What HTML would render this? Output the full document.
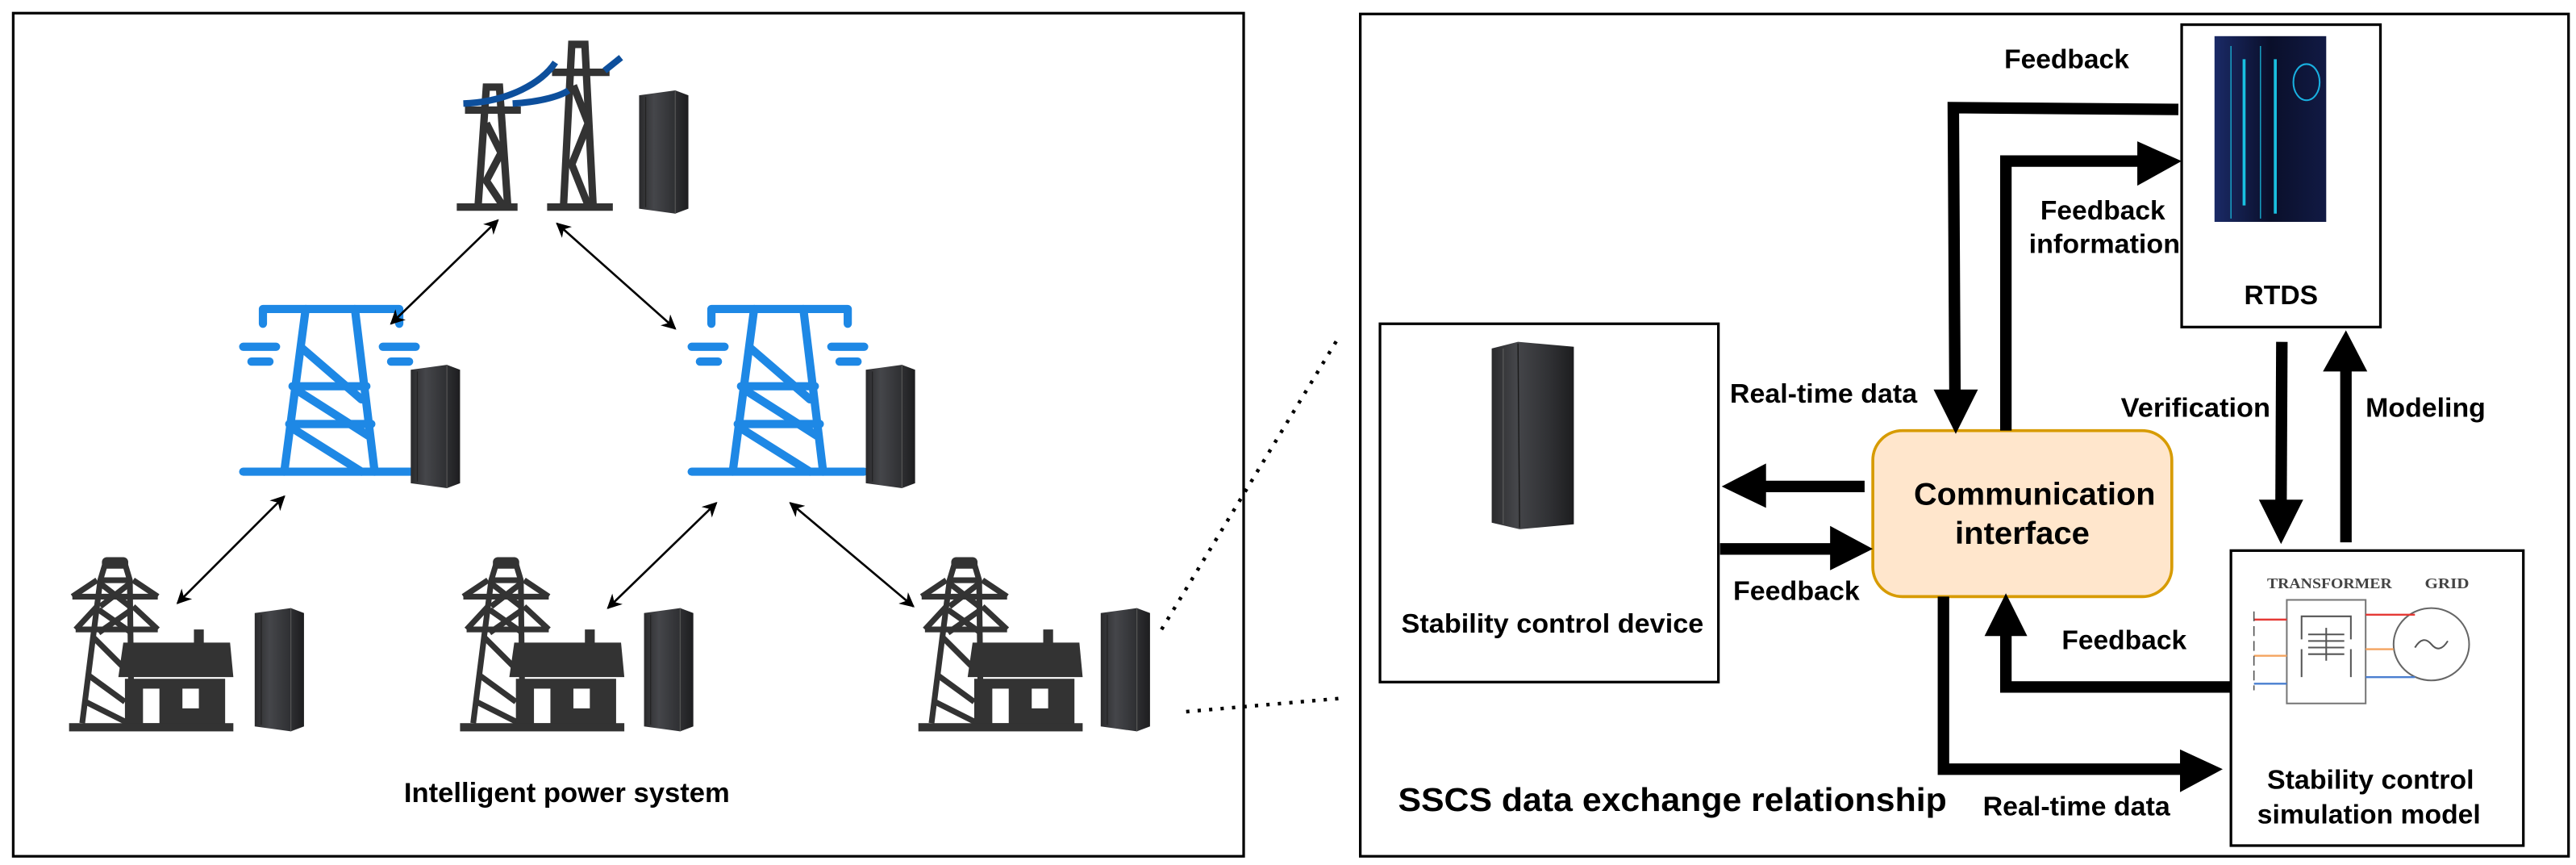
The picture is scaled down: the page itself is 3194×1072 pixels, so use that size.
<!DOCTYPE html>
<html><head><meta charset="utf-8"><style>
html,body{margin:0;padding:0;background:#fff}
svg{display:block}
text{font-family:"Liberation Sans",sans-serif;font-weight:bold;fill:#000}
</style></head><body>
<svg width="3194" height="1072" viewBox="0 0 1568 526.3" xmlns="http://www.w3.org/2000/svg">
<defs>
<linearGradient id="rk" x1="0" x2="1"><stop offset="0" stop-color="#2a2a2c"/><stop offset="0.3" stop-color="#45464a"/><stop offset="0.7" stop-color="#303134"/><stop offset="1" stop-color="#1d1d1f"/></linearGradient>
<linearGradient id="rt" x1="0" x2="1"><stop offset="0" stop-color="#1a2a66"/><stop offset="0.5" stop-color="#0a0f2a"/><stop offset="1" stop-color="#111a44"/></linearGradient>
<marker id="ah" viewBox="0 0 10 10" refX="9" refY="5" markerWidth="9" markerHeight="9" orient="auto-start-reverse" markerUnits="userSpaceOnUse"><path d="M0,0 L10,5 L0,10 L3,5 z" fill="#000"/></marker>
<g id="rack"><path d="M0,3 L22,0 L30,3 L30,72 L22,75 L0,72 z" fill="url(#rk)"/><line x1="22" y1="0" x2="22" y2="75" stroke="#555" stroke-width="0.6"/><line x1="4" y1="4" x2="4" y2="71" stroke="#222" stroke-width="0.6"/></g>
<g id="blue" fill="none" stroke="#1e88e5" stroke-width="5" stroke-linecap="round" stroke-linejoin="round">
<path d="M12,12 V3 H95 V12"/><path d="M38,3 L25,102 M68,3 L80,102"/><path d="M30,50 H75 M28,73 H78"/><path d="M36,27 L72,58 M32,52 L76,80 M29,75 L72,102"/>
<path d="M0,102 H105"/><path d="M0,26 H20 M5,35 H16 M85,26 H105 M90,35 H101"/>
</g>
<g id="house">
<g fill="none" stroke="#333" stroke-width="3.5" stroke-linejoin="round">
<path d="M22,4 H34 L37,14 L38,101 M22,4 L19,14 L8,101"/>
<path d="M19,14 L38,14"/>
<path d="M2,24 H54 M4,44 H54"/>
<path d="M2,24 L17,14 M54,24 L39,14 M4,44 L17,30 M54,44 L39,30"/>
<path d="M19,16 L37,30 M37,16 L19,30 M18,32 L38,46 M38,32 L18,46"/>
<path d="M14,48 L36,70 M12,72 L34,88 M10,88 L36,101"/>
</g>
<rect x="20" y="0" width="16" height="7" rx="3" fill="#333"/>
<path d="M33,52 H98 L100,73 H30 z" fill="#333"/>
<rect x="76" y="44" width="6" height="10" fill="#333"/>
<rect x="34" y="74" width="61" height="28" fill="#333"/>
<rect x="45" y="80" width="10" height="21" fill="#fff"/><rect x="69" y="80" width="10" height="12" fill="#fff"/>
<rect x="0" y="101" width="100" height="5" fill="#333"/>
</g>
</defs>

<rect x="8" y="8" width="749" height="513" fill="none" stroke="#000" stroke-width="1.6"/>
<g fill="none" stroke="#333" stroke-width="4.5">
<path d="M291,125 L296,53 H304 L309,125"/><path d="M283,67 H317"/><path d="M296,75 L305,93 L296,110 L306,125"/>
<path d="M343,125 L348,27 H356 L361,125"/><path d="M336,44 H371"/><path d="M349,52 L358,75 L348,100 L358,125"/>
<path d="M278,126 H315 M333,126 H373"/>
</g>
<path d="M282,63 C310,62 330,50 338,38" stroke="#0d4f9c" stroke-width="4" fill="none"/>
<path d="M312,63 C330,62 342,58 346,55" stroke="#0d4f9c" stroke-width="4" fill="none"/>
<path d="M368,43 L378,35" stroke="#0d4f9c" stroke-width="4" fill="none"/>
<use href="#rack" x="389" y="55"/>
<use href="#blue" x="148" y="185"/>
<use href="#rack" x="250" y="222"/>
<use href="#blue" x="421" y="185"/>
<use href="#rack" x="527" y="222"/>
<use href="#house" x="42" y="339"/>
<use href="#rack" x="155" y="370"/>
<use href="#house" x="280" y="339"/>
<use href="#rack" x="392" y="370"/>
<use href="#house" x="559" y="339"/>
<use href="#rack" x="670" y="370"/>
<g stroke="#000" stroke-width="1.3" marker-start="url(#ah)" marker-end="url(#ah)">
<line x1="303" y1="134" x2="238" y2="197"/>
<line x1="339" y1="136" x2="411" y2="200"/>
<line x1="173" y1="302" x2="108" y2="367"/>
<line x1="436" y1="306" x2="370" y2="370"/>
<line x1="481" y1="306" x2="556" y2="369"/>
</g>
<text x="345" y="488" font-size="17" text-anchor="middle">Intelligent power system</text>
<g stroke="#000" stroke-width="2.2" stroke-dasharray="2,5">
<line x1="707" y1="383" x2="815" y2="205"/>
<line x1="722" y1="433" x2="815" y2="425"/>
</g>

<rect x="828" y="8.5" width="735.5" height="512.5" fill="none" stroke="#000" stroke-width="1.6"/>
<rect x="840" y="197" width="206" height="218" fill="#fff" stroke="#000" stroke-width="1.6"/>
<path d="M908,212 L924,208 L958,211 L958,319 L925,322 L908,318 z" fill="url(#rk)"/>
<line x1="915" y1="212" x2="915" y2="319" stroke="#555" stroke-width="0.7"/>
<line x1="924" y1="209" x2="925" y2="321" stroke="#1a1a1a" stroke-width="0.7"/>
<text x="853" y="385" font-size="16.5" textLength="184" lengthAdjust="spacingAndGlyphs">Stability control device</text>

<rect x="1328" y="15" width="121" height="184" fill="#fff" stroke="#000" stroke-width="1.6"/>
<rect x="1348" y="22" width="68" height="113" fill="url(#rt)"/>
<g stroke="#19c0e0" stroke-width="1.8"><line x1="1366" y1="36" x2="1366" y2="125"/><line x1="1385" y1="36" x2="1385" y2="130"/></g>
<g stroke="#19c0e0" stroke-width="0.6"><line x1="1358" y1="28" x2="1358" y2="133"/><line x1="1376" y1="28" x2="1376" y2="133"/></g>
<ellipse cx="1404" cy="50" rx="8" ry="11" fill="none" stroke="#19b0e0" stroke-width="1"/>
<text x="1366" y="185" font-size="16.5" textLength="45" lengthAdjust="spacingAndGlyphs">RTDS</text>

<rect x="1140" y="262" width="182" height="101" rx="18" fill="#ffe6cc" stroke="#d79b00" stroke-width="1.8"/>
<text x="1165" y="307" font-size="19" fill="#222" textLength="147" lengthAdjust="spacingAndGlyphs">Communication</text>
<text x="1190" y="331" font-size="19" fill="#222" textLength="82" lengthAdjust="spacingAndGlyphs">interface</text>

<rect x="1358" y="335" width="178" height="179.5" fill="#fff" stroke="#000" stroke-width="1.6"/>
<text x="1380" y="358" font-size="9" textLength="76" lengthAdjust="spacingAndGlyphs" style="font-family:'Liberation Serif',serif;fill:#444">TRANSFORMER</text>
<text x="1476" y="358" font-size="9" textLength="27" lengthAdjust="spacingAndGlyphs" style="font-family:'Liberation Serif',serif;fill:#444">GRID</text>
<rect x="1392" y="365" width="48" height="63" fill="none" stroke="#777" stroke-width="1"/>
<g stroke="#555" stroke-width="1" fill="none"><path d="M1401,389 V375 H1431 V389 M1401,395 V412 M1431,395 V412"/><line x1="1405" y1="386" x2="1427" y2="386"/><line x1="1405" y1="390" x2="1427" y2="390"/><line x1="1405" y1="394" x2="1427" y2="394"/><line x1="1405" y1="398" x2="1427" y2="398"/><line x1="1416" y1="382" x2="1416" y2="402"/></g>
<ellipse cx="1480" cy="392" rx="23" ry="22" fill="none" stroke="#666" stroke-width="1"/>
<path d="M1470,394 Q1475,386 1480,392 T1490,390" fill="none" stroke="#555" stroke-width="1"/>
<g stroke-width="1.2"><line x1="1372" y1="377" x2="1392" y2="377" stroke="#e53935"/><line x1="1440" y1="374" x2="1470" y2="374" stroke="#e53935"/><line x1="1372" y1="399" x2="1392" y2="399" stroke="#f4a460"/><line x1="1440" y1="395" x2="1457" y2="395" stroke="#f4a460"/><line x1="1372" y1="416" x2="1392" y2="416" stroke="#4a7fd0"/><line x1="1440" y1="412" x2="1470" y2="412" stroke="#4a7fd0"/></g>
<line x1="1372" y1="372" x2="1372" y2="420" stroke="#555" stroke-width="0.8" stroke-dasharray="6,3"/>
<text x="1380" y="480" font-size="16.5" textLength="126" lengthAdjust="spacingAndGlyphs">Stability control</text>
<text x="1374" y="501" font-size="16.5" textLength="136" lengthAdjust="spacingAndGlyphs">simulation model</text>

<g fill="none" stroke="#000" stroke-width="7" stroke-linejoin="miter">
<path d="M1326,66.6 L1189,65.5 L1190,240"/>
<path d="M1221,262 L1221,98 L1303,98"/>
<path d="M1135,296 L1072,296"/>
<path d="M1047,334 L1116,334"/>
<path d="M1389,208 L1388.5,306"/>
<path d="M1428,330 L1428,224"/>
<path d="M1358,418 L1221,418 L1221,385"/>
<path d="M1183,363 L1183,468 L1329,468"/>
</g>
<g fill="#000">
<path d="M1177,237 L1204,237 L1190.5,264 z"/>
<path d="M1301,86 L1328,98 L1301,113 z"/>
<path d="M1075,282 L1048,296 L1075,309 z"/>
<path d="M1114,320 L1140,334 L1114,347 z"/>
<path d="M1375,304 L1402,304 L1388.5,331 z"/>
<path d="M1414,226 L1441,226 L1428,201 z"/>
<path d="M1208,387 L1234,387 L1221,361 z"/>
<path d="M1327,456 L1353,468 L1327,482 z"/>
</g>
<text x="1220" y="41.5" font-size="16.5" textLength="76" lengthAdjust="spacingAndGlyphs">Feedback</text>
<text x="1242" y="133.5" font-size="16.5" textLength="76" lengthAdjust="spacingAndGlyphs">Feedback</text>
<text x="1235" y="154" font-size="16.5" textLength="92" lengthAdjust="spacingAndGlyphs">information</text>
<text x="1053" y="245" font-size="16.5" textLength="114" lengthAdjust="spacingAndGlyphs">Real-time data</text>
<text x="1055" y="365" font-size="16.5" textLength="77" lengthAdjust="spacingAndGlyphs">Feedback</text>
<text x="1291" y="253.5" font-size="16.5" textLength="91" lengthAdjust="spacingAndGlyphs">Verification</text>
<text x="1440" y="253.5" font-size="16.5" textLength="73" lengthAdjust="spacingAndGlyphs">Modeling</text>
<text x="1255" y="395" font-size="16.5" textLength="76" lengthAdjust="spacingAndGlyphs">Feedback</text>
<text x="1207" y="496" font-size="16.5" textLength="114" lengthAdjust="spacingAndGlyphs">Real-time data</text>
<text x="851" y="493.5" font-size="20" textLength="334" lengthAdjust="spacingAndGlyphs">SSCS data exchange relationship</text>
</svg>
</body></html>
